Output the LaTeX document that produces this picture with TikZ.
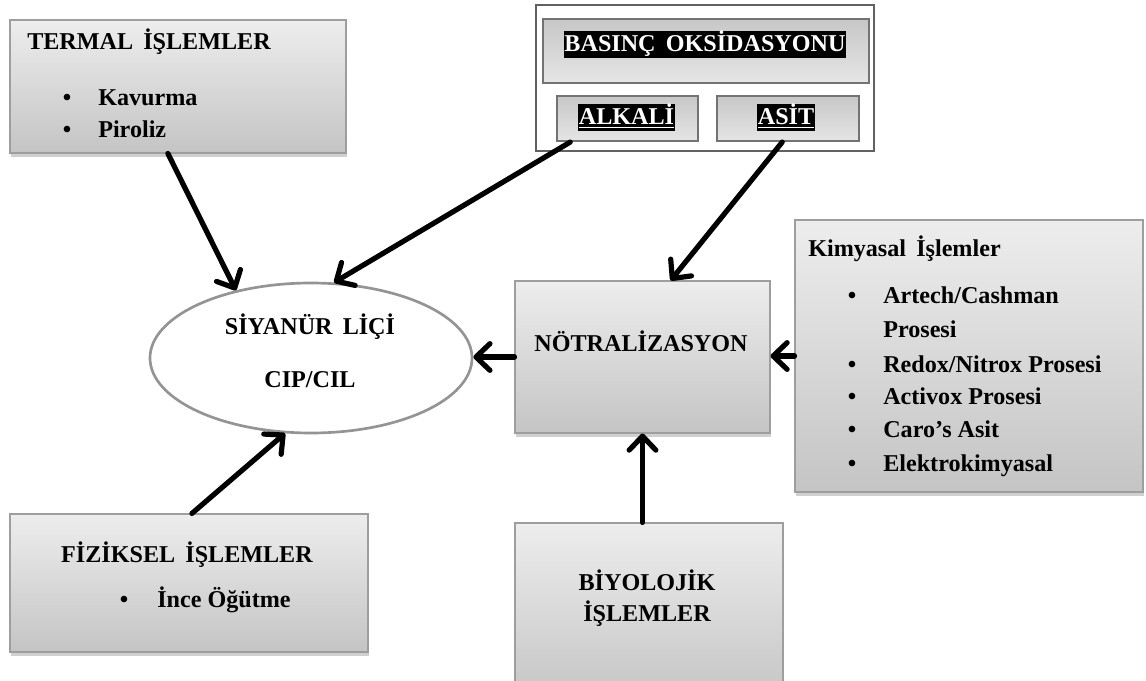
\documentclass[tikz,border=0pt]{standalone}
\usepackage{fontspec}
\setmainfont{Liberation Serif}[BoldFont={Liberation Serif Bold}]
\usetikzlibrary{arrows.meta,shadows,shapes.geometric,calc}
\newcommand\wsp{\hspace{0.42em}}
\begin{document}
\begin{tikzpicture}[x=0.75pt,y=-0.75pt,
  font=\fontsize{18.1}{22}\selectfont\bfseries,
  wh/.style 2 args={minimum width=#1*0.75pt, minimum height=#2*0.75pt, inner sep=0pt},
  box/.style={draw=black!38, line width=0.8pt, top color=black!7, bottom color=black!23,
    drop shadow={shadow xshift=1pt, shadow yshift=-3pt, opacity=0.3, fill=black!60}},
  inbox/.style={draw=black!55, line width=1.6pt, top color=black!22, bottom color=black!10},
  outbox/.style={draw=black!62, line width=2.2pt, fill=white},
  hl/.style={fill=black, text=white, inner xsep=0.3pt, inner ysep=0pt, text height=15.8pt, text depth=4.2pt, anchor=base},
  lbl/.style={anchor=base west, inner sep=0pt},
  clbl/.style={anchor=base, inner sep=0pt},
  arr/.style={line width=3.9pt, line cap=round, -{Straight Barb[length=10.5pt,width=20pt,line cap=round,line join=round]}}
]
\clip (0,0) rectangle (1146,681);
\fill[white] (0,0) rectangle (1146,681);

% boxes
\node[box, wh={336}{133}] (termal) at (178,86.5) {};
\node[box, wh={255}{152}] (notr) at (642.5,357) {};
\node[box, wh={348}{272}] (kimya) at (969,356) {};
\node[box, wh={358}{138}] (fiz) at (189,583) {};
\node[box, wh={268}{180}] (biyo) at (649,613) {};
\node[outbox, wh={338}{146}] (basinc) at (705,78) {};
\node[inbox, wh={326}{64}] (botop) at (706,51) {};
\node[inbox, wh={141}{45}] (alkali) at (627.5,118.5) {};
\node[inbox, wh={142}{45}] (asit) at (788,118.5) {};
\node[ellipse, draw=black!42, line width=2pt, fill=white, wh={322}{150}] (ell) at (311,358) {};

% texts
\node[lbl] (t1) at (27,50) {TERMAL\wsp İŞLEMLER};
\node[clbl] (t1b1) at (67,106) {•};
\node[lbl] (t1i1) at (98,106) {Kavurma};
\node[clbl] (t1b2) at (67,138) {•};
\node[lbl] (t1i2) at (98,138) {Piroliz};

\node[hl] (bt) at (705,52) {BASINÇ\wsp OKSİDASYONU};
\node[hl] (at) at (626.5,125) {\underline{ALKALİ}};
\node[hl] (st) at (786,125) {\underline{ASİT}};

\node[clbl] (e1) at (310,334) {SİYANÜR\wsp LİÇİ};
\node[clbl] (e2) at (310,387) {CIP/CIL};

\node[clbl] (nt) at (641,351) {NÖTRALİZASYON};

\node[lbl] (kt) at (808,257) {Kimyasal\wsp İşlemler};
\node[clbl] (kb1) at (852,303) {•};
\node[lbl] (ki1) at (883,303) {Artech/Cashman};
\node[lbl] (ki1b) at (883,337) {Prosesi};
\node[clbl] (kb2) at (852,372) {•};
\node[lbl] (ki2) at (883,372) {Redox/Nitrox Prosesi};
\node[clbl] (kb3) at (852,404) {•};
\node[lbl] (ki3) at (883,404) {Activox Prosesi};
\node[clbl] (kb4) at (852,437) {•};
\node[lbl] (ki4) at (883,437) {Caro’s Asit};
\node[clbl] (kb5) at (852,471) {•};
\node[lbl] (ki5) at (883,471) {Elektrokimyasal};

\node[clbl] (ft) at (187,562) {FİZİKSEL\wsp İŞLEMLER};
\node[clbl] (fb) at (124,607) {•};
\node[lbl] (fi) at (157,607) {İnce Öğütme};

\node[clbl] (by1) at (647,590) {BİYOLOJİK};
\node[clbl] (by2) at (647,621) {İŞLEMLER};

% arrows
\draw[arr] ($(termal.south west)!0.47!(termal.south east)$) -- (ell.138);
\draw[arr] ($(alkali.south west)!0.1!(alkali.south east)$) -- (ell.73);
\draw[arr] ($(asit.south west)!0.46!(asit.south east)$) -- ($(notr.north west)!0.61!(notr.north east)$);
\draw[arr] (notr.west) -- (notr.west -| ell.east);
\draw[arr] (kimya.west) -- (kimya.west -| notr.east);
\draw[arr] (notr.south |- biyo.north) -- (notr.south);
\draw[arr] ($(fiz.north west)!0.508!(fiz.north east)$) -- (ell.251);
\end{tikzpicture}
\end{document}
